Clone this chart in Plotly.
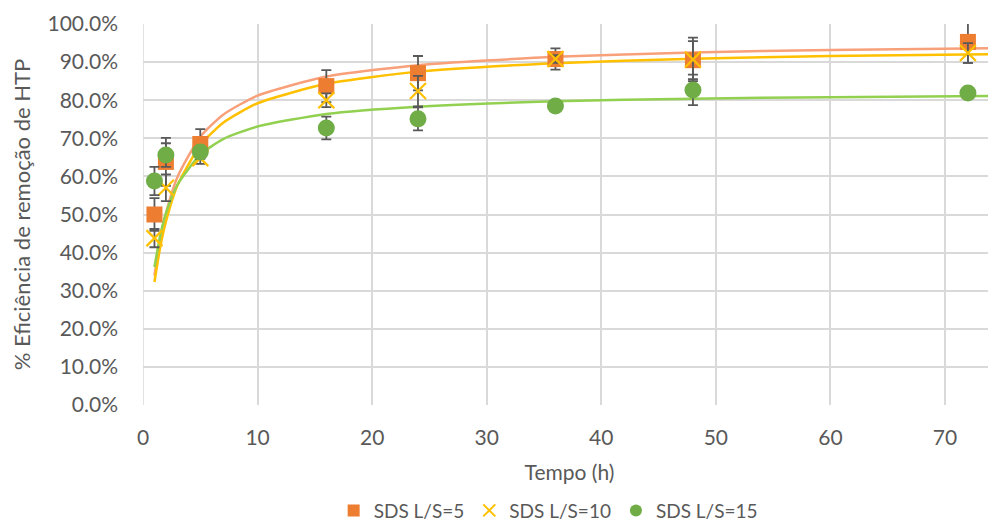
import plotly.graph_objects as go

# Measured points (time in h, removal efficiency in %)
tempo = [1, 2, 5, 16, 24, 36, 48, 72]
ls5 = [50.0, 63.8, 68.5, 83.7, 87.1, 90.8, 90.5, 95.3]
ls5_err = [4.3, 6.3, 3.9, 4.2, 4.5, 2.8, 5.0, 5.5]
ls10 = [43.8, 57.0, 64.8, 80.0, 82.4, 90.8, 90.7, 92.4]
ls10_err = [2.4, 3.5, 1.5, 1.8, 4.0, 1.0, 5.7, 2.6]
ls15 = [58.8, 65.6, 66.4, 72.7, 75.1, 78.5, 82.7, 81.9]
ls15_err = [3.7, 3.1, 1.5, 3.0, 3.0, 0.5, 4.0, 0.5]

# Fitted curves
t_fit = [1, 1.5, 2, 3, 5, 7, 10, 16, 24, 36, 48, 60, 75]
fit5 = [34.0, 43.4, 50.3, 59.8, 70.4, 76.2, 81.2, 86.2, 89.2, 91.4, 92.5, 93.2, 93.7]
fit10 = [32.3, 41.4, 48.1, 57.6, 68.2, 74.1, 79.2, 84.3, 87.5, 89.7, 90.9, 91.6, 92.1]
fit15 = [36.2, 44.5, 50.3, 57.8, 65.7, 69.8, 73.1, 76.4, 78.3, 79.7, 80.4, 80.8, 81.1]

names = ["SDS L/S=5", "SDS L/S=10", "SDS L/S=15"]
x_ticks = [0, 10, 20, 30, 40, 50, 60, 70]
y_ticks = [0, 10, 20, 30, 40, 50, 60, 70, 80, 90, 100]

FONT = "Lato"
TXT = "#595959"

def pct(v):
    return [a / 100 for a in v]

fig = go.Figure()

for fit, col in [(fit5, "#F8A07A"), (fit10, "#FFC000"), (fit15, "#92D050")]:
    fig.add_trace(go.Scatter(x=t_fit, y=pct(fit), mode="lines", line=dict(color=col, width=2.5, shape="spline", smoothing=0.6),
                             showlegend=False, hoverinfo="skip"))

def err(e):
    return dict(type="data", array=pct(e), visible=True, color="#595959", thickness=1.8, width=5)

fig.add_trace(go.Scatter(x=tempo, y=pct(ls5), mode="markers", name=names[0], error_y=err(ls5_err),
                         marker=dict(symbol="square", size=16, color="#ED7D31")))
fig.add_trace(go.Scatter(x=tempo, y=pct(ls10), mode="markers", name=names[1], error_y=err(ls10_err),
                         marker=dict(symbol="x-thin", size=16, color="#FFC000", line=dict(color="#FFC000", width=2.2))))
fig.add_trace(go.Scatter(x=tempo, y=pct(ls15), mode="markers", name=names[2], error_y=err(ls15_err),
                         marker=dict(symbol="circle", size=17, color="#70AD47")))

# the page body adds an 8px offset; the figure is enlarged by that amount so the
# visible 996x521 window shows the intended layout
fig.update_layout(
    width=1004, height=529,
    margin=dict(l=135, r=16, t=16, b=132),
    plot_bgcolor="white", paper_bgcolor="white",
    font=dict(family=FONT, color=TXT, size=20),
    legend=dict(orientation="h", xref="container", yref="container", x=0.538, y=0.05,
                xanchor="center", yanchor="middle",
                font=dict(size=19, color=TXT), itemsizing="constant", traceorder="normal",
                itemwidth=30, tracegroupgap=0),
    xaxis=dict(range=[0, 74.45], tickvals=x_ticks, showgrid=True, gridcolor="#D9D9D9", gridwidth=1.5,
               zeroline=False, showline=False, ticks="", tickfont=dict(size=21, color=TXT),
               automargin=False, ticklabelstandoff=18,
               title=dict(text="Tempo (h)", font=dict(size=21, color=TXT), standoff=17)),
    yaxis=dict(range=[0, 1.0], tickvals=pct(y_ticks), tickformat=".1%", showgrid=True, gridcolor="#D9D9D9",
               gridwidth=1.5, zeroline=False, showline=False, ticks="", tickfont=dict(size=21, color=TXT),
               automargin=False, ticklabelstandoff=24,
               title=dict(text="% Eficiência de remoção de HTP", font=dict(size=22, color=TXT), standoff=12)),
)
fig.add_shape(type="line", xref="x", yref="paper", x0=0, x1=0, y0=0, y1=1, line=dict(color="#D9D9D9", width=1.5))

fig.write_html("out.html")
